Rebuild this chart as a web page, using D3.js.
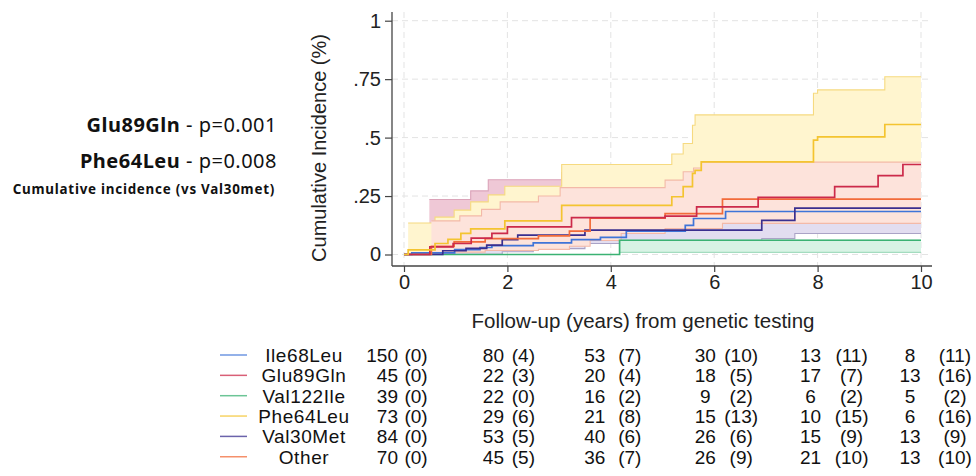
<!DOCTYPE html>
<html>
<head>
<meta charset="utf-8">
<script src="https://cdn.jsdelivr.net/npm/d3@7"></script>
<style>
  body { margin: 0; background: #fff; }
  svg { display: block; }
</style>
</head>
<body>
<svg id="drawing_region"></svg>
<script>
// groups, in legend order
const groups = ["Ile68Leu", "Glu89Gln", "Val122Ile", "Phe64Leu", "Val30Met", "Other"];
const colors = ["#3f74d8", "#cc2a4a", "#3bb273", "#f4c430", "#3a2f8f", "#f26b3a"];

// cumulative incidence point estimates (step times in years, values)
const tIle68Leu = [0, 0.15, 0.98, 1.47, 1.7, 2.5, 3.24, 3.8, 4.3, 5.44, 5.6, 6.22];
const vIle68Leu = [0, 0.007, 0.021, 0.03, 0.038, 0.05, 0.064, 0.073, 0.1, 0.125, 0.154, 0.184];
const tGlu89Gln = [0, 0.5, 0.95, 1.3, 1.7, 2.0, 3.24, 5.05, 5.66, 6.85, 8.33, 9.17, 9.65];
const vGlu89Gln = [0, 0.033, 0.047, 0.07, 0.09, 0.118, 0.158, 0.164, 0.204, 0.244, 0.29, 0.337, 0.385];
const tVal122Ile = [0, 4.17];
const vVal122Ile = [0, 0.061];
const tPhe64Leu = [0, 0.08, 0.6, 0.85, 1.1, 1.29, 1.95, 3.05, 5.18, 5.4, 5.58, 5.63, 5.75, 7.92, 8.0, 9.3];
const vPhe64Leu = [0, 0.02, 0.047, 0.065, 0.09, 0.11, 0.144, 0.21, 0.247, 0.29, 0.347, 0.36, 0.396, 0.489, 0.503, 0.556];
const tVal30Met = [0, 0.75, 1.2, 1.6, 1.9, 2.2, 3.5, 6.92, 7.56];
const vVal30Met = [0, 0.016, 0.026, 0.04, 0.064, 0.083, 0.104, 0.146, 0.198];
const tOther = [0, 0.53, 0.97, 1.57, 2.6, 3.2, 3.6, 5.05, 6.16];
const vOther = [0, 0.035, 0.054, 0.068, 0.08, 0.1, 0.155, 0.175, 0.237];

// confidence bands (lower / upper step functions)
const tGluLo = [0.49, 1.29, 1.63, 3.05, 5.66, 6.85, 8.33, 9.17];
const vGluLo = [0.02, 0.04, 0.06, 0.11, 0.2, 0.21, 0.28, 0.33];
const tGluUp = [0.49, 1.29, 1.63, 3.05, 5.05, 5.66, 6.85, 8.33, 9.17, 9.65];
const vGluUp = [0.235, 0.272, 0.32, 0.35, 0.36, 0.38, 0.42, 0.48, 0.53, 0.58];
const tPheLo = [0.08, 0.6, 1.29, 1.95, 3.05, 5.18, 5.63, 7.92, 9.3];
const vPheLo = [0.003, 0.012, 0.035, 0.06, 0.1, 0.12, 0.2, 0.27, 0.32];
const tPheUp = [0.08, 0.6, 0.97, 1.29, 1.63, 1.95, 3.05, 5.18, 5.4, 5.58, 5.63, 7.92, 8.0, 9.3];
const vPheUp = [0.135, 0.16, 0.19, 0.225, 0.255, 0.292, 0.385, 0.43, 0.475, 0.553, 0.597, 0.69, 0.704, 0.76];
const tV30Lo = [0.75, 1.9, 2.5, 3.5, 6.92, 7.56];
const vV30Lo = [0.001, 0.012, 0.025, 0.047, 0.068, 0.09];
const tV30Up = [0.75, 1.2, 1.9, 2.2, 3.5, 6.92, 7.56];
const vV30Up = [0.07, 0.09, 0.13, 0.16, 0.18, 0.24, 0.3];
const tOthLo = [0.53, 0.97, 1.57, 2.6, 3.2, 3.6, 4.2, 5.05, 6.16];
const vOthLo = [0.004, 0.01, 0.017, 0.022, 0.035, 0.06, 0.09, 0.111, 0.133];
const tOthUp = [0.53, 1.08, 1.5, 1.86, 2.6, 3.02, 5.05, 5.4, 5.6, 5.75];
const vOthUp = [0.144, 0.165, 0.193, 0.225, 0.25, 0.286, 0.318, 0.354, 0.37, 0.395];
const tV122Lo = [4.17];
const vV122Lo = [0.009];
const tV122Up = [4.17];
const vV122Up = [0.061];

// number at risk (events) per time column
const riskTimes = [0, 2, 4, 6, 8, 10];
const atRisk = [
    [150, 80, 53, 30, 13, 8],
    [45, 22, 20, 18, 17, 13],
    [39, 22, 16, 9, 6, 5],
    [73, 29, 21, 15, 10, 6],
    [84, 53, 40, 26, 15, 13],
    [70, 45, 36, 26, 21, 13]
];
const events = [
    [0, 4, 7, 10, 11, 11],
    [0, 3, 4, 5, 7, 16],
    [0, 0, 2, 2, 2, 2],
    [0, 6, 8, 13, 15, 16],
    [0, 5, 6, 6, 9, 9],
    [0, 5, 7, 9, 10, 10]
];

const xTicks = [0, 2, 4, 6, 8, 10];
const yTicks = [0, 0.25, 0.5, 0.75, 1];

const curves = [
    {t: tVal122Ile, v: vVal122Ile, color: colors[2]},
    {t: tIle68Leu, v: vIle68Leu, color: colors[0]},
    {t: tVal30Met, v: vVal30Met, color: colors[4]},
    {t: tOther, v: vOther, color: colors[5]},
    {t: tGlu89Gln, v: vGlu89Gln, color: colors[1]},
    {t: tPhe64Leu, v: vPhe64Leu, color: colors[3]}
];

// drawn bottom to top
const bands = [
    {lo: [tGluLo, vGluLo], up: [tGluUp, vGluUp], fill: "#efc8d6", edge: "#dba3b9"},
    {lo: [tPheLo, vPheLo], up: [tPheUp, vPheUp], fill: "#fff5cf", edge: "#f6da80"},
    {lo: [tV30Lo, vV30Lo], up: [tV30Up, vV30Up], fill: "#e2ddf0", edge: "#aaa3c6"},
    {lo: [tOthLo, vOthLo], up: [tOthUp, vOthUp], fill: "#fde3db", edge: "#f3b9a8"},
    {lo: [tV122Lo, vV122Lo], up: [tV122Up, vV122Up], fill: "#d8f3e5", edge: "#a3dcbf"}
];

const config = {
    width: 976,
    height: 476,
    frame: {left: 392, right: 932, top: 12, bottom: 266},
    xrange: [404, 921],
    yrange: [254.5, 20.7],
    tmax: 10
};

const font = "'Liberation Sans', Arial, sans-serif";

function stepAt(ts, vs, t) {
    let v = vs[0];
    ts.forEach((d, i) => { if (d <= t) v = vs[i]; });
    return v;
}

const svg = d3.select('#drawing_region')
    .attr('width', config.width)
    .attr('height', config.height);

const xscale = d3.scaleLinear().domain([0, 10]).range(config.xrange);
const yscale = d3.scaleLinear().domain([0, 1]).range(config.yrange);
const f = config.frame;

// grid
const grid = svg.append('g')
    .attr('stroke', '#e3e3e3')
    .attr('stroke-width', 1)
    .attr('stroke-dasharray', '6,4');
grid.selectAll('.gx').data(xTicks).join('line')
    .attr('x1', d => xscale(d)).attr('x2', d => xscale(d))
    .attr('y1', f.top).attr('y2', f.bottom);
grid.selectAll('.gy').data(yTicks).join('line')
    .attr('x1', f.left).attr('x2', f.right)
    .attr('y1', d => yscale(d)).attr('y2', d => yscale(d));

// bands
const area = d3.area()
    .curve(d3.curveStepAfter)
    .x(d => xscale(d.t))
    .y0(d => yscale(d.lo))
    .y1(d => yscale(d.hi));
const line = d3.line()
    .curve(d3.curveStepAfter)
    .x(d => xscale(d[0]))
    .y(d => yscale(d[1]));

function stepPoints(ts, vs) {
    const pts = ts.map((t, i) => [t, vs[i]]);
    pts.push([config.tmax, vs[vs.length - 1]]);
    return pts;
}

bands.forEach(b => {
    const times = Array.from(new Set(b.lo[0].concat(b.up[0]).concat([config.tmax]))).sort((a, c) => a - c);
    const pts = times.map(t => ({t: t, lo: stepAt(b.lo[0], b.lo[1], t), hi: stepAt(b.up[0], b.up[1], t)}));
    svg.append('path')
        .datum(pts)
        .attr('d', area)
        .attr('fill', b.fill)
        .attr('stroke', 'none');
    [b.lo, b.up].forEach(s => {
        svg.append('path')
            .datum(stepPoints(s[0], s[1]))
            .attr('d', line)
            .attr('fill', 'none')
            .attr('stroke', b.edge)
            .attr('stroke-width', 1.1);
    });
});

// point estimates
curves.forEach(c => {
    svg.append('path')
        .datum(stepPoints(c.t, c.v))
        .attr('d', line)
        .attr('fill', 'none')
        .attr('stroke', c.color)
        .attr('stroke-width', 1.7);
});

// axes
const yaxis = d3.axisLeft(yscale)
    .tickValues(yTicks)
    .tickFormat(d => d === 0 ? '0' : d === 1 ? '1' : String(d).replace(/^0/, ''))
    .tickSize(7)
    .tickPadding(4);
svg.append('g')
    .attr('transform', `translate(${f.left},0)`)
    .call(yaxis)
    .call(g => g.select('.domain').remove())
    .call(g => g.selectAll('line').attr('stroke', '#444').attr('stroke-width', 1.2))
    .call(g => g.selectAll('text').attr('font-size', 20).attr('font-family', font).attr('fill', '#222'));

const xaxis = d3.axisBottom(xscale)
    .tickValues(xTicks)
    .tickFormat(d3.format('d'))
    .tickSize(6)
    .tickPadding(3);
svg.append('g')
    .attr('transform', `translate(0,${f.bottom})`)
    .call(xaxis)
    .call(g => g.select('.domain').remove())
    .call(g => g.selectAll('line').attr('stroke', '#444').attr('stroke-width', 1.2))
    .call(g => g.selectAll('text').attr('font-size', 20).attr('font-family', font).attr('fill', '#222'));

svg.append('line')
    .attr('x1', f.left).attr('x2', f.left)
    .attr('y1', f.top).attr('y2', f.bottom)
    .attr('stroke', '#444').attr('stroke-width', 1.3);
svg.append('line')
    .attr('x1', f.left).attr('x2', f.right)
    .attr('y1', f.bottom).attr('y2', f.bottom)
    .attr('stroke', '#444').attr('stroke-width', 1.3);

// axis titles
svg.append('text')
    .attr('transform', `translate(326,${(f.top + f.bottom) / 2 + 9}) rotate(-90)`)
    .attr('text-anchor', 'middle')
    .attr('font-family', font)
    .attr('font-size', 20)
    .attr('fill', '#222')
    .text('Cumulative Incidence (%)');

svg.append('text')
    .attr('x', 643)
    .attr('y', 328)
    .attr('text-anchor', 'middle')
    .attr('font-family', font)
    .attr('font-size', 20.5)
    .attr('fill', '#222')
    .text('Follow-up (years) from genetic testing');

// p-value annotations
const notes = [["Glu89Gln", " - p=0.001", 132], ["Phe64Leu", " - p=0.008", 168]];
notes.forEach(n => {
    const t = svg.append('text')
        .attr('x', 277).attr('y', n[2])
        .attr('text-anchor', 'end')
        .attr('font-family', "'Noto Sans', sans-serif")
        .attr('font-size', 20)
        .attr('letter-spacing', 0.5)
        .attr('fill', '#111');
    t.append('tspan').attr('font-weight', 'bold').text(n[0]);
    t.append('tspan').text(n[1]);
});
svg.append('text')
    .attr('x', 275).attr('y', 194)
    .attr('text-anchor', 'end')
    .attr('font-family', "'Noto Sans', sans-serif")
    .attr('font-size', 13.4)
    .attr('letter-spacing', 0.75)
    .attr('font-weight', 'bold')
    .attr('fill', '#111')
    .text('Cumulative incidence (vs Val30met)');

// legend + risk table
const rowY0 = 355, rowStep = 20.35;
const countDx = [-6, -14, -16, -9, -7, -11];
const parenDx = [12, 16, 19, 27, 34, 34];

const table = svg.append('g')
    .attr('font-family', font)
    .attr('font-size', 19)
    .attr('fill', '#111');

groups.forEach((g, i) => {
    const y = rowY0 + i * rowStep;
    table.append('line')
        .attr('x1', 220).attr('x2', 247)
        .attr('y1', y).attr('y2', y)
        .attr('stroke', colors[i])
        .attr('stroke-opacity', 0.75)
        .attr('stroke-width', 1.5);
    table.append('text')
        .attr('x', 304).attr('y', y)
        .attr('dy', '0.36em')
        .attr('text-anchor', 'middle')
        .attr('letter-spacing', 0.6)
        .text(g);
    riskTimes.forEach((t, k) => {
        table.append('text')
            .attr('x', xscale(t) + countDx[k]).attr('y', y)
            .attr('dy', '0.36em')
            .attr('text-anchor', k === 0 ? 'end' : 'middle')
            .text(atRisk[i][k]);
        table.append('text')
            .attr('x', xscale(t) + parenDx[k]).attr('y', y)
            .attr('dy', '0.36em')
            .attr('text-anchor', 'middle')
            .text(`(${events[i][k]})`);
    });
});
</script>
</body>
</html>
